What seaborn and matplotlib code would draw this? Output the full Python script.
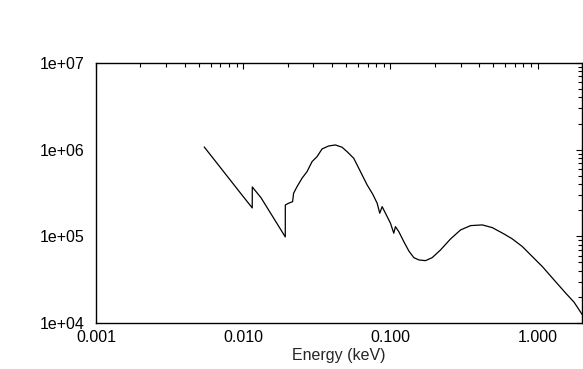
import numpy as np
import pandas as pd
import matplotlib
matplotlib.use("Agg")
import matplotlib.pyplot as plt
import matplotlib.ticker as mticker
import seaborn as sns

# ==========================================================
# DATA
# ==========================================================

energy_kev = [
    0.005429, 0.006202, 0.007660, 0.009800, 0.011511, 0.011520,
    0.01320, 0.01560, 0.01930, 0.01931, 0.02033, 0.02164, 0.02198,
    0.02319, 0.02508, 0.02712, 0.02933, 0.03172, 0.03430, 0.03804,
    0.04225, 0.04692, 0.05074, 0.05627, 0.05935, 0.06418, 0.06941,
    0.07580, 0.08120, 0.08456, 0.08779, 0.09247, 0.1000, 0.1053,
    0.1081, 0.1139, 0.1232, 0.1332, 0.1441, 0.1558, 0.1730,
    0.1922, 0.2189, 0.2559, 0.2994, 0.3501, 0.4205, 0.4918,
    0.5898, 0.6728, 0.7869, 0.9203, 1.0764, 1.2911, 1.5502,
    1.7658, 2.0140,
]
counts = [
    1.074e6, 8.07e5, 5.11e5, 3.00e5, 2.127e5, 3.71e5,
    2.79e5, 1.765e5, 9.84e4, 2.30e5, 2.41e5, 2.51e5, 3.14e5,
    3.74e5, 4.68e5, 5.58e5, 7.27e5, 8.31e5, 1.019e6, 1.103e6,
    1.133e6, 1.066e6, 9.48e5, 7.96e5, 6.66e5, 5.11e5, 3.92e5,
    3.06e5, 2.41e5, 1.847e5, 2.20e5, 1.847e5, 1.416e5, 1.086e5,
    1.294e5, 1.133e5, 8.69e4, 6.79e4, 5.68e4, 5.34e4, 5.24e4,
    5.68e4, 6.97e4, 9.33e4, 1.185e5, 1.329e5, 1.354e5, 1.260e5,
    1.066e5, 9.33e4, 7.61e4, 5.83e4, 4.47e4, 3.14e4, 2.21e4,
    1.738e4, 1.240e4,
]

XLIM = (0.001, 2.0)
YLIM = (1e4, 1e7)
X_TICKS = [0.001, 0.01, 0.1, 1.0]
Y_TICKS = [1e4, 1e5, 1e6, 1e7]


# ==========================================================
# PLOT
# ==========================================================

sns.set_theme(style="white")
plt.rcParams["font.family"] = ["Liberation Sans", "DejaVu Sans"]

df = pd.DataFrame({"energy": energy_kev, "counts": counts})

fig = plt.figure(figsize=(5.83, 3.69), dpi=100)
ax = fig.add_axes([0.1647, 0.1247, 0.8336, 0.7046])

sns.lineplot(data=df, x="energy", y="counts", ax=ax, color="black",
             linewidth=0.9, sort=False, estimator=None)

ax.set_xscale("log")
ax.set_yscale("log")
ax.set_xlim(*XLIM)
ax.set_ylim(*YLIM)

ax.set_xticks(X_TICKS)
ax.set_yticks(Y_TICKS)
ax.xaxis.set_major_formatter(mticker.FuncFormatter(lambda v, p: f"{v:.3f}"))
ax.yaxis.set_major_formatter(mticker.FuncFormatter(lambda v, p: f"{v:.0e}"))
ax.xaxis.set_minor_locator(mticker.LogLocator(base=10, subs=np.arange(2, 10)))
ax.yaxis.set_minor_locator(mticker.LogLocator(base=10, subs=np.arange(2, 10)))
ax.xaxis.set_minor_formatter(mticker.NullFormatter())
ax.yaxis.set_minor_formatter(mticker.NullFormatter())

ax.tick_params(which="both", direction="in", top=True, right=True,
               colors="black", width=0.8)
ax.tick_params(which="major", length=4, labelsize=11.5)
ax.tick_params(axis="x", which="major", pad=5)
ax.tick_params(axis="y", which="major", pad=8)
ax.tick_params(which="minor", length=3)

for spine in ax.spines.values():
    spine.set_color("black")
    spine.set_linewidth(1.0)

ax.set_xlabel("Energy (keV)", fontsize=11.5, labelpad=2)
ax.set_ylabel("")

fig.savefig("out.png", dpi=100, facecolor="white")
